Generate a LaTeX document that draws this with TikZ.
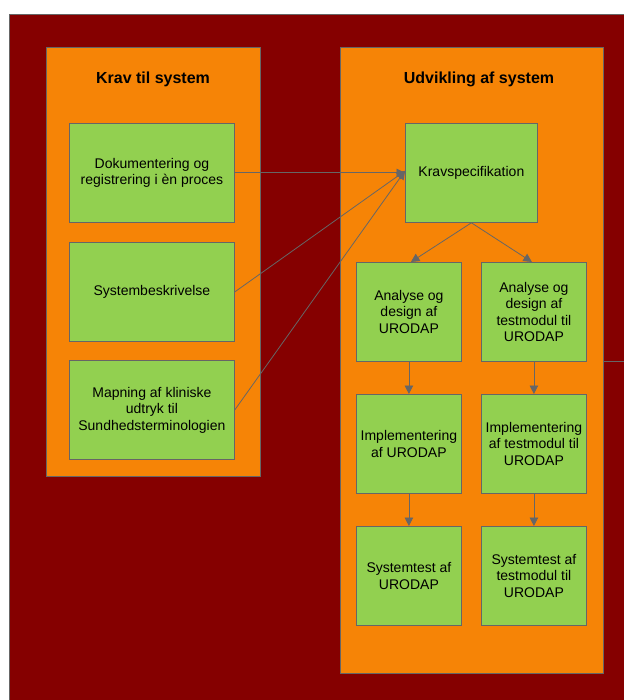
\documentclass[tikz,border=0pt]{standalone}
\usepackage{fontspec}
\setmainfont{Liberation Sans}
\usetikzlibrary{arrows.meta}
\definecolor{bgred}{RGB}{133,0,0}
\definecolor{boxorange}{RGB}{246,132,6}
\definecolor{boxgreen}{RGB}{146,208,80}
\definecolor{edgegray}{RGB}{102,102,102}

\begin{document}
\begin{tikzpicture}[x=1pt,y=-1pt,
  panel/.style={draw=edgegray, line width=0.8pt, fill=boxorange, inner sep=0pt, anchor=north west},
  paneltitle/.style={font=\fontsize{16}{19}\selectfont\bfseries, text=black, inner sep=0pt},
  task/.style={draw=edgegray, line width=0.8pt, fill=boxgreen, align=center, inner sep=2pt,
    font=\fontsize{14}{16.5}\selectfont, anchor=north west, minimum height=99pt},
  wide/.style={task, minimum width=165pt},
  mid/.style={task, minimum width=132pt},
  narrow/.style={task, minimum width=105pt},
  flow/.style={draw=edgegray, line width=0.8pt, -{Triangle[length=8.5pt,width=8.5pt]}},
  link/.style={draw=edgegray, line width=0.8pt}
]
\useasboundingbox (0,0) rectangle (624,700);

% background field
\fill[bgred] (9,14) rectangle (624,700);
\draw[edgegray, line width=0.8pt] (9,700) |- (624,14);

% the two panels
\node[panel, minimum width=214pt, minimum height=429pt] (req) at (46,47) {};
\node[paneltitle] (reqtitle) at (153,79) {Krav til system};
\node[panel, minimum width=263pt, minimum height=626pt] (dev) at (340,47) {};
\node[paneltitle] (devtitle) at (479,79) {Udvikling af system};

% requirement boxes
\node[wide] (doc) at (69,123) {Dokumentering og\\registrering i èn proces};
\node[wide] (sys) at (69,242) {Systembeskrivelse};
\node[wide] (map) at (69,360) {Mapning af kliniske\\udtryk til\\Sundhedsterminologien};

% development boxes
\node[mid] (spec) at (405,123) {Kravspecifikation};
\node[narrow] (anl) at (356,262) {Analyse og\\design af\\URODAP};
\node[narrow] (anr) at (481,262) {Analyse og\\design af\\testmodul til\\URODAP};
\node[narrow] (iml) at (356,394) {Implementering\\af URODAP};
\node[narrow] (imr) at (481,394) {Implementering\\af testmodul til\\URODAP};
\node[narrow] (tsl) at (356,526) {Systemtest af\\URODAP};
\node[narrow] (tsr) at (481,526) {Systemtest af\\testmodul til\\URODAP};

% connectors
\draw[flow] (doc.east) -- (spec.west);
\draw[flow] (sys.east) -- ([yshift=2pt]spec.west);
\draw[flow] (map.east) -- ([yshift=2pt]spec.west);
\draw[flow] (spec.south) -- ([xshift=2pt]anl.north);
\draw[flow] (spec.south) -- ([xshift=-2pt]anr.north);
\draw[flow] (anl.south) -- (iml.north);
\draw[flow] (anr.south) -- (imr.north);
\draw[flow] (iml.south) -- (tsl.north);
\draw[flow] (imr.south) -- (tsr.north);

\coordinate (offright) at (624,361);
\draw[link] (dev.east |- offright) -- (offright);
\end{tikzpicture}
\end{document}
